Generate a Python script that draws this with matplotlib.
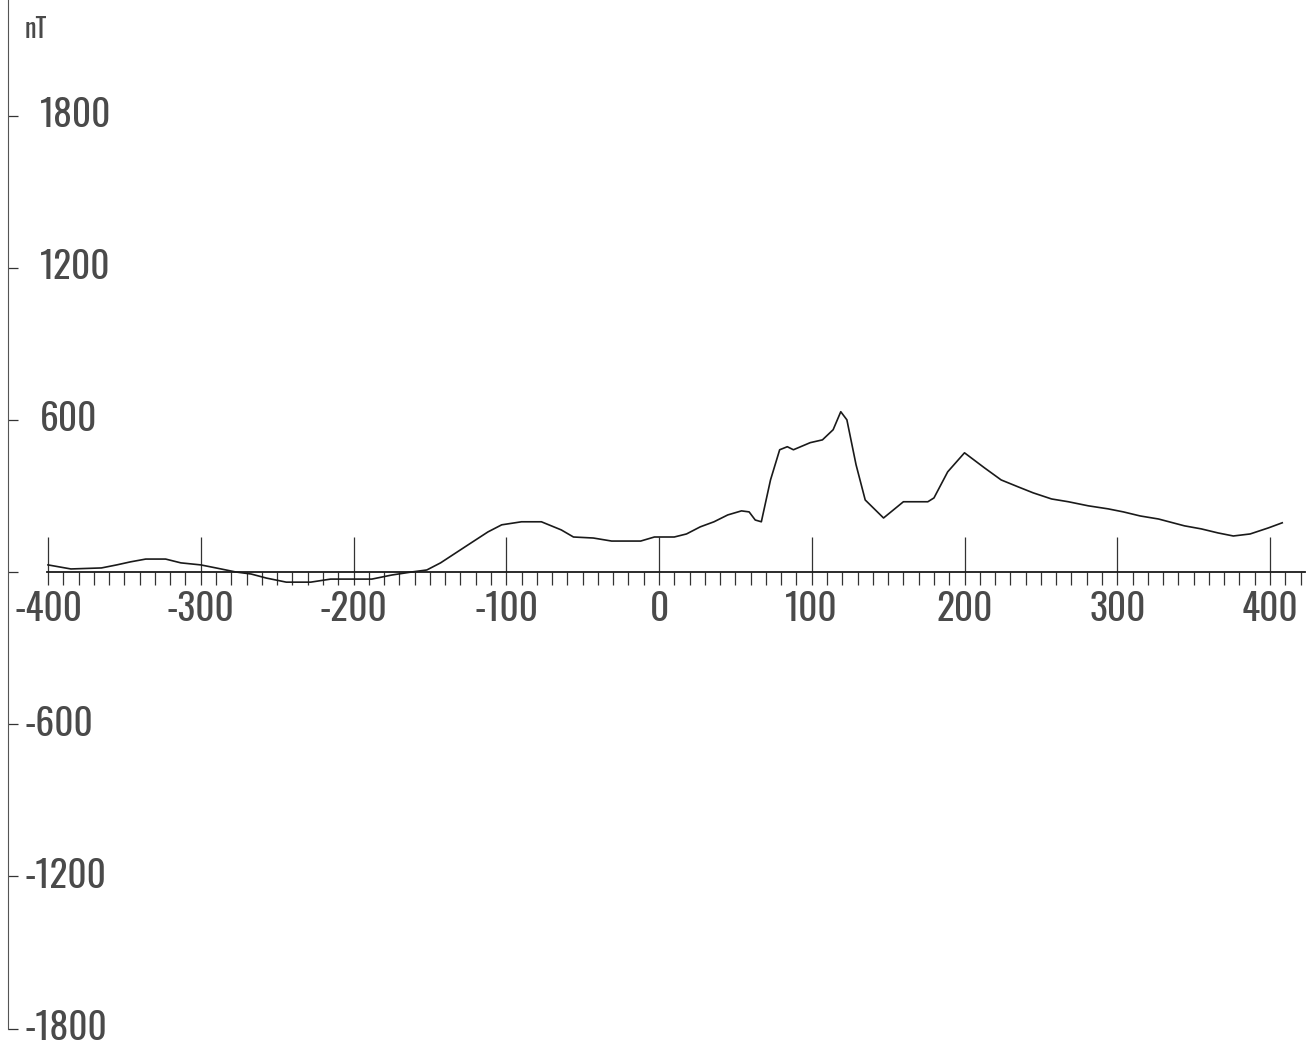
import matplotlib
matplotlib.use("Agg")
import matplotlib.pyplot as plt
import numpy as np
from matplotlib.ticker import FixedLocator, NullFormatter

plt.rcParams['font.family'] = ['Oswald', 'DejaVu Sans']

# Profile data (distance, field in nT)
dist = [-400, -385, -365, -355, -346, -336, -323, -313, -300, -290, -277, -267,
        -257, -244, -228, -215, -188, -175, -162, -152, -143, -125, -112, -103,
        -90, -77, -64, -56, -43, -31, -12, -3, 10, 18, 27, 36, 45, 54, 59, 63,
        67, 73, 79, 84, 88, 99, 107, 114, 119, 123, 129, 135, 147, 160, 176,
        180, 189, 200, 213, 224, 235, 245, 257, 268, 281, 294, 304, 315, 327,
        344, 355, 366, 376, 387, 399, 408]
field = [28, 12, 16, 28, 40, 51, 51, 36, 28, 16, 0, -8,
         -24, -40, -40, -28, -28, -12, 0, 8, 36, 107, 158, 186,
         198, 198, 166, 138, 134, 122, 122, 138, 138, 150, 178, 198, 225, 241, 237, 205,
         198, 363, 482, 494, 482, 510, 521, 561, 632, 600, 423, 284, 213, 277, 277,
         292, 395, 470, 411, 363, 336, 312, 288, 277, 261, 249, 237, 221, 209,
         182, 170, 154, 142, 150, 174, 194]

x_major = [-400, -300, -200, -100, 0, 100, 200, 300, 400]
x_labels = ['-400', '-300', '-200', '-100', '0', '100', '200', '300', '400']
x_minor = list(range(-400, 421, 10))
y_ticks = [-1800, -1200, -600, 0, 600, 1200, 1800]
y_labels = ['-1800', '-1200', '-600', '', '600', '1200', '1800']
unit = 'nT'

W, H = 1308, 1050
fig = plt.figure(figsize=(W / 100, H / 100), dpi=100)
ax = fig.add_axes([0, 0, 1, 1])

xs = 1222 / 800.0          # px per unit in x
ys = (1030 - 117) / 3600.0  # px per unit in y
x_left = -400 - 48 / xs
x_right = -400 + (W - 48) / xs
y_top = 572 / ys
y_bot = -(H - 572) / ys
ax.set_xlim(x_left, x_right)
ax.set_ylim(y_bot, y_top)

ink = '#1a1a1a'
txt = '#4a4a4a'
ax.plot(dist, field, color=ink, lw=1.2)

# spines
for s in ['top', 'right']:
    ax.spines[s].set_visible(False)
spine_x = -400 - 40 / xs
ax.spines['left'].set_position(('data', spine_x))
ax.spines['left'].set_bounds(-1800, y_top)
ax.spines['left'].set_color('#555555')
ax.spines['left'].set_linewidth(0.8)
ax.spines['bottom'].set_position(('data', 0))
ax.spines['bottom'].set_bounds(-400 - 1 / xs, 423)
ax.spines['bottom'].set_color(ink)
ax.spines['bottom'].set_linewidth(1.3)

# x ticks
ax.xaxis.remove_overlapping_locs = False
ax.xaxis.set_major_locator(FixedLocator(x_major))
ax.xaxis.set_minor_locator(FixedLocator(x_minor))
ax.set_xticklabels(x_labels)
ax.tick_params(axis='x', which='major', direction='in', length=25, width=0.9,
               color='#333333', pad=14, labelsize=27, labelcolor=txt)
ax.tick_params(axis='x', which='minor', direction='out', length=9.5, width=0.9,
               color='#333333')

# y ticks
ax.yaxis.set_major_locator(FixedLocator(y_ticks))
ax.yaxis.set_major_formatter(NullFormatter())
ax.tick_params(axis='y', which='major', direction='in', length=7, width=0.9,
               color='#333333')

for v, lab in zip(y_ticks, y_labels):
    if not lab:
        continue
    xpx = 40 if v > 0 else 24
    ax.text(xpx / W, v, lab, transform=ax.get_yaxis_transform(),
            ha='left', va='center', fontsize=27, color=txt)

ax.text(25 / W, 1 - 30 / H, unit, transform=ax.transAxes, ha='left',
        va='center', fontsize=19, color=txt)

fig.savefig('out.png', dpi=100)
